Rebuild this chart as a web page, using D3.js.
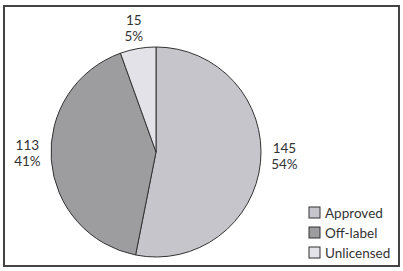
<!DOCTYPE html>
<html>
<head>
<meta charset="utf-8">
<script src="https://cdn.jsdelivr.net/npm/d3@7"></script>
<style>
  body { margin: 0; background: #fff; }
  text { font-family: Lato, "Open Sans", sans-serif; fill: #333; }
</style>
</head>
<body>
<div id="pieChart"></div>
<script>
// data
var categories = ["Approved", "Off-label", "Unlicensed"];
var counts = [145, 113, 15];
var percents = ["54%", "41%", "5%"];
var colours = ["#c7c5cc", "#9d9c9f", "#e3e2e8"];

var width = 403, height = 271;
var cx = 156, cy = 152, radius = 105;

var svg = d3.select("#pieChart")
  .append("svg")
    .attr("width", width)
    .attr("height", height);

// frame
svg.append("rect")
  .attr("x", 4).attr("y", 6)
  .attr("width", 395).attr("height", 260)
  .attr("fill", "none")
  .attr("stroke", "#444")
  .attr("stroke-width", 2);

var slices = categories.map(function(c, i){
  return {name: c, value: counts[i], pct: percents[i], colour: colours[i]};
});

var pie = d3.pie().sort(null).value(function(d){ return d.value; });
var arc = d3.arc().innerRadius(0).outerRadius(radius);

var g = svg.append("g")
  .attr("transform", "translate(" + cx + "," + cy + ")");

var arcs = pie(slices);

g.selectAll("path")
  .data(arcs)
  .enter()
  .append("path")
    .attr("d", arc)
    .attr("fill", function(d){ return d.data.colour; })
    .attr("stroke", "#333")
    .attr("stroke-width", 1);

// labels outside each slice, placed on an ellipse round the pie
var rx = 129, ry = 118;

var labels = g.selectAll(".lbl")
  .data(arcs)
  .enter()
  .append("text")
    .attr("class", "lbl")
    .attr("text-anchor", "middle")
    .attr("font-size", 13.5)
    .attr("transform", function(d){
      var a = (d.startAngle + d.endAngle) / 2;
      return "translate(" + (rx * Math.sin(a)) + "," + (-ry * Math.cos(a)) + ")";
    });

labels.append("tspan")
  .attr("x", 0).attr("y", -11)
  .text(function(d){ return d.data.value; });
labels.append("tspan")
  .attr("x", 0).attr("y", 5)
  .text(function(d){ return d.data.pct; });

// legend
var legend = svg.append("g")
  .attr("transform", "translate(309,207)");

var rows = legend.selectAll("g")
  .data(slices)
  .enter()
  .append("g")
    .attr("transform", function(d, i){ return "translate(0," + (i * 20) + ")"; });

rows.append("rect")
  .attr("width", 11).attr("height", 11)
  .attr("fill", function(d){ return d.colour; })
  .attr("stroke", "#333");

rows.append("text")
  .attr("x", 16).attr("y", 11)
  .attr("font-size", 13.5)
  .text(function(d){ return d.name; });
</script>
</body>
</html>
